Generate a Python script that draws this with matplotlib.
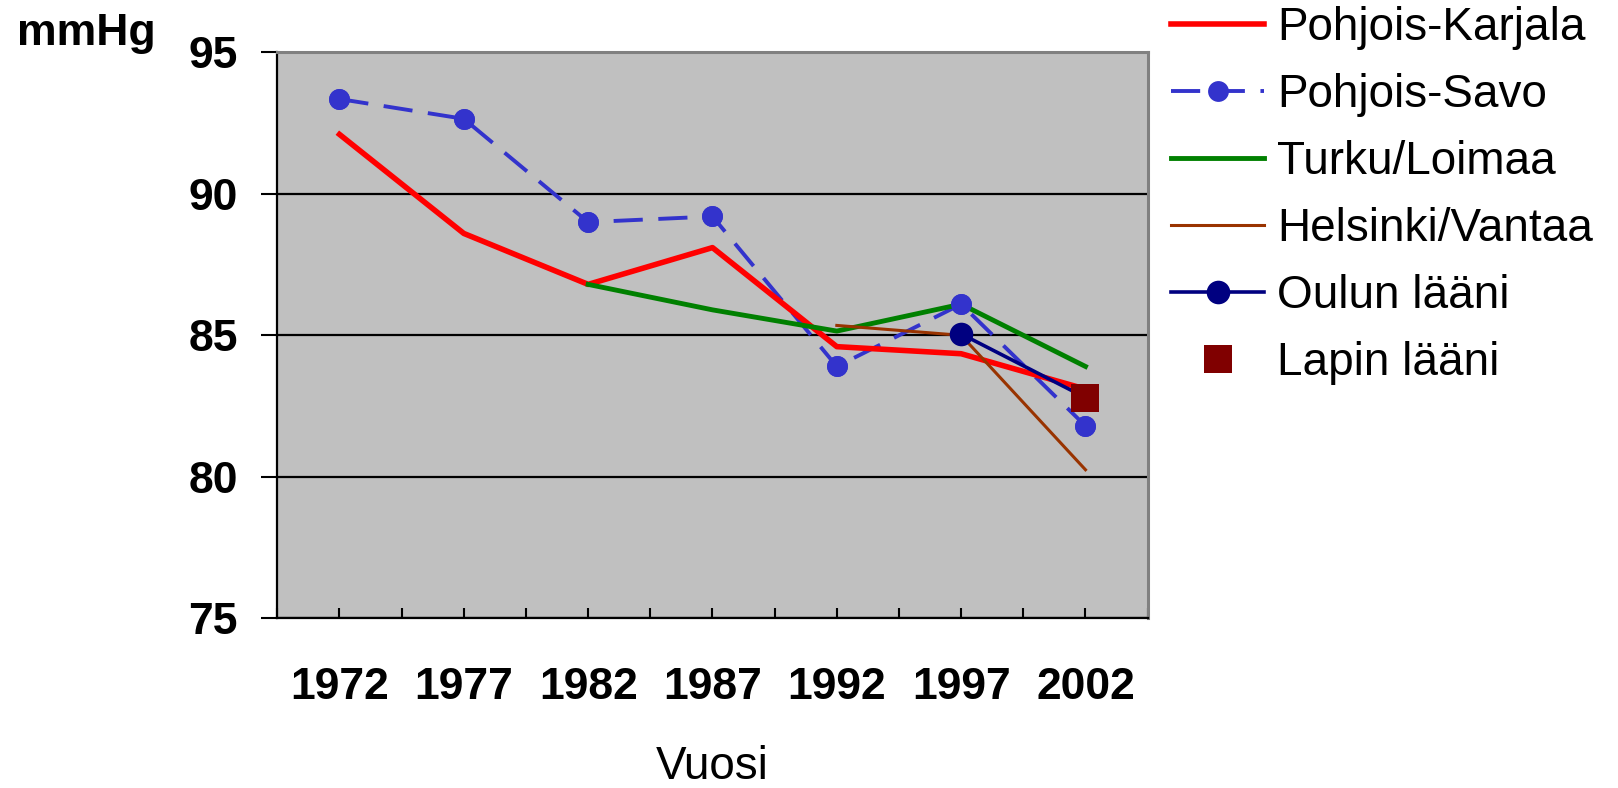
import numpy as np
import matplotlib
matplotlib.use("Agg")
import matplotlib.pyplot as plt

plt.rcParams['font.family'] = ['Liberation Sans', 'DejaVu Sans']

years = ['1972', '1977', '1982', '1987', '1992', '1997', '2002']
nan = np.nan

pohjois_karjala = [92.1, 88.6, 86.8, 88.1, 84.6, 84.35, 83.1]
pohjois_savo = [93.35, 92.65, 89.0, 89.2, 83.9, 86.1, 81.8]
turku_loimaa = [nan, nan, 86.8, 85.9, 85.15, 86.1, 83.9]
helsinki_vantaa = [nan, nan, nan, nan, 85.35, 85.0, 80.25]
oulun_laani = [nan, nan, nan, nan, nan, 85.05, 82.8]
lapin_laani = [nan, nan, nan, nan, nan, nan, 82.8]

fig = plt.figure(figsize=(16.18, 7.88), dpi=100)
ax = fig.add_axes([0.1714, 0.2153, 0.5379, 0.7183])
ax.set_facecolor('#C0C0C0')

x = np.arange(len(years)) + 0.5

l1, = ax.plot(x, pohjois_karjala, color='#FF0000', lw=4.0, label='Pohjois-Karjala',
              zorder=4)
l2, = ax.plot(x, pohjois_savo, color='#3333CC', lw=2.8, dashes=(7.5, 4),
              marker='o', ms=15, markeredgewidth=0, label='Pohjois-Savo', zorder=3)
l3, = ax.plot(x, turku_loimaa, color='#008000', lw=3.5, label='Turku/Loimaa', zorder=4.5)
l4, = ax.plot(x, helsinki_vantaa, color='#993300', lw=2.2, label='Helsinki/Vantaa', zorder=5)
l5, = ax.plot(x, oulun_laani, color='#000080', lw=2.6, marker='o', ms=17,
              markeredgewidth=0, label='Oulun lääni', zorder=6)
l6, = ax.plot(x, lapin_laani, color='#800000', lw=0, marker='s', ms=19.5,
              markeredgewidth=0, label='Lapin lääni', zorder=7)
# savo markers on top of the other lines
ax.plot(x, pohjois_savo, ls='none', marker='o', ms=15, markeredgewidth=0,
        color='#3333CC', zorder=5.5)

ax.set_xlim(0, 7)
ax.set_ylim(75, 95)
ax.set_yticks([75, 80, 85, 90, 95])
ax.set_xticks(x)
ax.set_xticklabels(years)
ax.set_xticks(np.arange(0, 8), minor=True)

ax.yaxis.grid(True, color='black', lw=1.6)
ax.set_axisbelow(True)

for s in ['top', 'right']:
    ax.spines[s].set_color('#808080')
    ax.spines[s].set_linewidth(2.2)
for s in ['left', 'bottom']:
    ax.spines[s].set_color('black')
    ax.spines[s].set_linewidth(1.6)

ax.tick_params(axis='y', direction='out', length=11.5, width=1.5, pad=17,
               labelsize=32)
ax.tick_params(axis='x', which='both', direction='in', length=7.5, width=1.5,
               pad=35, labelsize=32)
for lab in ax.get_xticklabels() + ax.get_yticklabels():
    lab.set_fontweight('bold')

fig.text(86 / 1618, 1 - 34 / 788, 'mmHg', fontsize=32, fontweight='bold',
         ha='center', va='center')
fig.text(712 / 1618, 1 - 767 / 788, 'Vuosi', fontsize=33, ha='center', va='center')

fig.legend(handles=[l1, l2, l3, l4, l5, l6], loc='upper left',
           bbox_to_anchor=(1171 / 1618, 0.992), frameon=False, fontsize=33,
           handlelength=2.03, handletextpad=0.28, labelspacing=0.5,
           borderpad=0, borderaxespad=0)

fig.savefig('out.png', dpi=100)
